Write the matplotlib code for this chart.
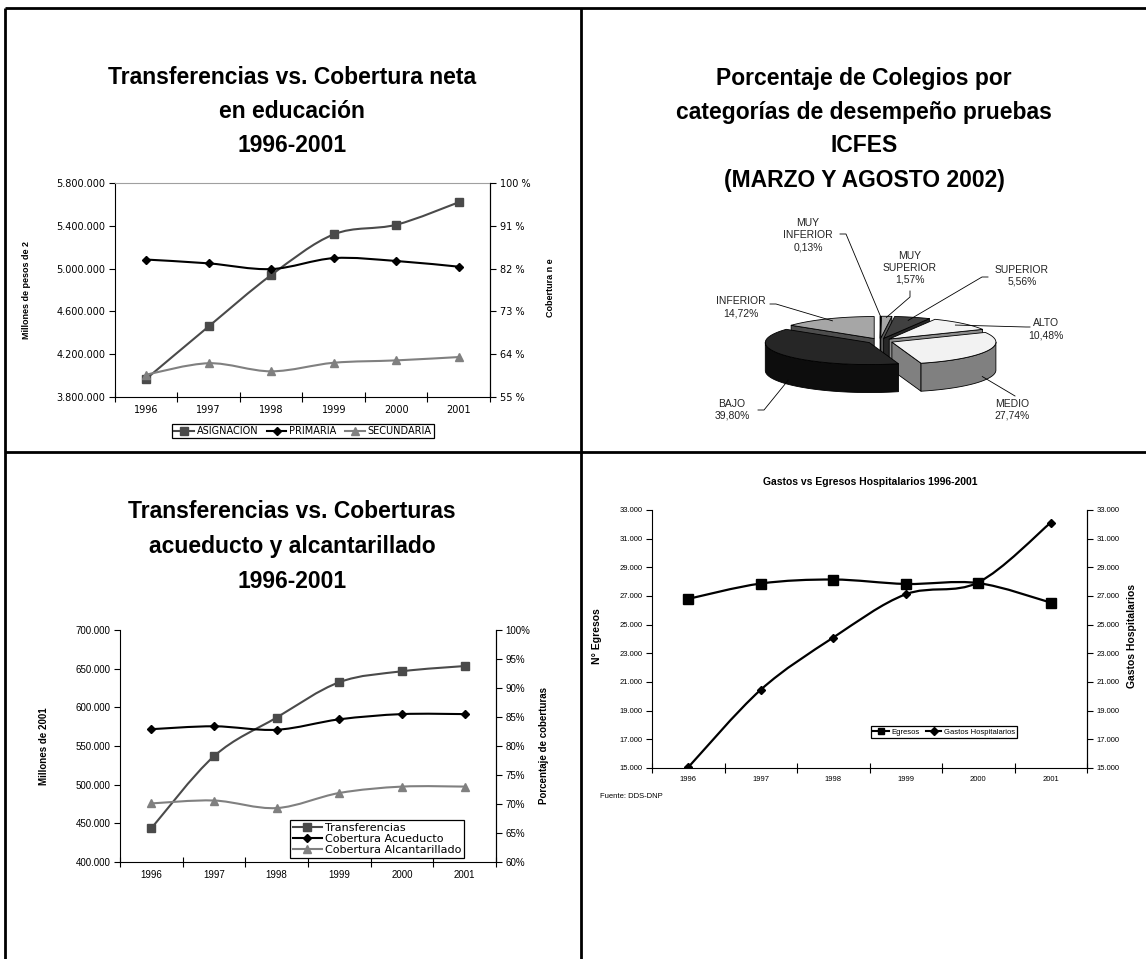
import numpy as np
import matplotlib
matplotlib.use('Agg')
import matplotlib.pyplot as plt
from matplotlib.path import Path
from matplotlib.patches import PathPatch, Polygon
from matplotlib.lines import Line2D

plt.rcParams['font.family'] = ['Liberation Sans', 'DejaVu Sans']

W, H = 1146, 959

years = ['1996', '1997', '1998', '1999', '2000', '2001']

# educacion: millones de pesos y cobertura neta (%)
asignacion = [3970000, 4460000, 4940000, 5320000, 5410000, 5620000]
primaria = [83.9, 83.1, 81.9, 84.2, 83.6, 82.4]
secundaria = [59.7, 62.1, 60.4, 62.2, 62.7, 63.4]

# colegios por categoria ICFES (%)
pie_labels = ['MUY\nINFERIOR', 'MUY\nSUPERIOR', 'SUPERIOR', 'ALTO', 'MEDIO', 'BAJO', 'INFERIOR']
pie_values = [0.13, 1.57, 5.56, 10.48, 27.74, 39.80, 14.72]

# acueducto y alcantarillado
transferencias = [443600, 536800, 586800, 632500, 646600, 653400]
acueducto = [82.9, 83.4, 82.8, 84.6, 85.5, 85.5]
alcantarillado = [70.1, 70.6, 69.3, 71.9, 73.0, 73.0]

# salud
egresos = [26800, 27870, 28150, 27840, 27900, 26540]
gastos = [15050, 20460, 24100, 27120, 27950, 32120]

fig = plt.figure(figsize=(W / 100, H / 100), dpi=100)
WIDE = 'DejaVu Sans'


def box(l, t, r, b):
    return [l / W, 1 - b / H, (r - l) / W, (b - t) / H]


def miles(v):
    return f'{v:,.0f}'.replace(',', '.')


def smooth(ax, y, **kw):
    # bezier through the points, like a smoothed spreadsheet line
    x = np.arange(1, len(y) + 1, dtype=float)
    y = np.asarray(y, float)
    n = len(x)
    verts = [(x[0], y[0])]
    codes = [Path.MOVETO]
    for i in range(n - 1):
        j0 = max(i - 1, 0)
        j3 = min(i + 2, n - 1)
        c1 = (x[i] + (x[i + 1] - x[j0]) / 6, y[i] + (y[i + 1] - y[j0]) / 6)
        c2 = (x[i + 1] - (x[j3] - x[i]) / 6, y[i + 1] - (y[j3] - y[i]) / 6)
        verts += [c1, c2, (x[i + 1], y[i + 1])]
        codes += [Path.CURVE4] * 3
    ax.add_patch(PathPatch(Path(verts, codes), fill=False, **kw))


def series(ax, y, color, marker, ms, lw=1.5):
    smooth(ax, y, edgecolor=color, lw=lw, zorder=3)
    ax.plot(np.arange(1, len(y) + 1), y, ls='none', marker=marker, ms=ms,
            color=color, mec=color, zorder=4)


def chart(rect, ylim, yticks, ylabels, rlim, rticks, rlabels, fs, fam):
    ax = fig.add_axes(rect)
    ax.set_xlim(0.5, 6.5)
    ax.set_ylim(*ylim)
    ax.set_xticks(np.arange(0.5, 7, 1))
    ax.set_xticklabels([])
    ax.set_xticks(np.arange(1, 7), years, minor=True)
    ax.tick_params(axis='x', which='major', direction='inout', length=7, width=0.8)
    ax.tick_params(axis='x', which='minor', length=0, labelsize=fs, pad=6,
                   labelfontfamily=fam)
    ax.set_yticks(yticks, ylabels)
    ax.tick_params(axis='y', direction='out', length=4, width=0.8, labelsize=fs, pad=3,
                   labelfontfamily=fam)
    ax.spines['top'].set_visible(False)
    for s in ('left', 'bottom'):
        ax.spines[s].set_linewidth(0.8)
    ax2 = ax.twinx()
    ax2.set_ylim(*rlim)
    ax2.set_yticks(rticks, rlabels)
    ax2.tick_params(axis='y', direction='out', length=4, width=0.8, labelsize=fs, pad=3,
                    labelfontfamily=fam)
    for s in ('top', 'left', 'bottom'):
        ax2.spines[s].set_visible(False)
    ax2.spines['right'].set_linewidth(0.8)
    return ax, ax2


def legend(ax, handles, labels, center, fs, ncol, fam, hl=2.0):
    leg = ax.legend(handles, labels, loc='center', bbox_to_anchor=(center[0] / W, 1 - center[1] / H),
                    bbox_transform=fig.transFigure, ncol=ncol, prop={'family': fam, 'size': fs},
                    frameon=True, fancybox=False, framealpha=1, edgecolor='black', borderpad=0.25,
                    handlelength=hl, handletextpad=0.3, columnspacing=0.9, labelspacing=0.1,
                    borderaxespad=0)
    leg.get_frame().set_linewidth(0.9)
    return leg


# frame and titles drawn in pixel coordinates
ax0 = fig.add_axes([0, 0, 1, 1])
ax0.set_xlim(0, W)
ax0.set_ylim(H, 0)
ax0.axis('off')
for xs, ys in (([5, 5], [8, H]), ([581, 581], [8, H]), ([5, W], [8, 8]), ([5, W], [452, 452])):
    ax0.plot(xs, ys, color='black', lw=2.0, solid_capstyle='butt')

title_kw = dict(ha='center', va='center', fontsize=16.5, fontweight='bold')
for txt, y in zip(['Transferencias vs. Cobertura neta', 'en educación', '1996-2001'], [78, 112, 145]):
    ax0.text(292, y, txt, **title_kw)
for txt, y in zip(['Porcentaje de Colegios por', 'categorías de desempeño pruebas', 'ICFES',
                   '(MARZO Y AGOSTO 2002)'], [78, 112, 146, 180]):
    ax0.text(864, y, txt, **title_kw)
for txt, y in zip(['Transferencias vs. Coberturas', 'acueducto y alcantarillado', '1996-2001'],
                  [511, 546, 581]):
    ax0.text(292, y, txt, **title_kw)
ax0.text(870, 482, 'Gastos vs Egresos Hospitalarios 1996-2001', ha='center', va='center',
         fontsize=7.5, fontweight='bold')
ax0.text(600, 797, 'Fuente: DDS-DNP', ha='left', va='center', fontsize=5.5)

# --- educacion ---
dark, mid = '#4a4a4a', '#808080'
yt = np.arange(3800000, 5800001, 400000)
rt = np.arange(55, 101, 9)
ax, ax2 = chart(box(115, 183, 490, 397), (3800000, 5800000), yt, [miles(v) for v in yt],
                (55, 100), rt, [f'{v} %' for v in rt], 7, WIDE)
ax.spines['top'].set_visible(True)
ax.spines['top'].set_color('#a0a0a0')
ax.set_ylabel('Millones de pesos de 2', fontsize=6.5, fontweight='bold')
ax.yaxis.set_label_coords(-0.225, 0.5)
ax2.set_ylabel('Cobertura n e', fontsize=6.5, fontweight='bold')
ax2.yaxis.set_label_coords(1.15, 0.51)
series(ax, asignacion, dark, 's', 6)
series(ax2, primaria, 'black', 'D', 4)
series(ax2, secundaria, mid, '^', 6)
legend(ax, [Line2D([], [], color=dark, marker='s', ms=6, lw=1.5),
            Line2D([], [], color='black', marker='D', ms=4, lw=1.5),
            Line2D([], [], color=mid, marker='^', ms=6, lw=1.5)],
       ['ASIGNACION', 'PRIMARIA', 'SECUNDARIA'], (303, 431), 7, 3, WIDE)

# --- pie 3D ---
cx, cy, ra, rb, dz, expl = 880, 341, 104, 22, 28, 13
top_col = ['#d9d9d9', '#a6a6a6', '#404040', '#f4f4f4', '#f2f2f2', '#262626', '#a6a6a6']
side_col = ['#737373', '#595959', '#262626', '#8c8c8c', '#808080', '#0d0d0d', '#4d4d4d']
frac = np.cumsum([0] + pie_values) / sum(pie_values)
slices = []
for i in range(len(pie_values)):
    t1 = np.pi / 2 - 2 * np.pi * frac[i]
    t0 = np.pi / 2 - 2 * np.pi * frac[i + 1]
    m = (t0 + t1) / 2
    slices.append((t0, t1, m, expl * np.cos(m), -expl * rb / ra * np.sin(m)))


def rim(t, ox, oy, r=1.0, down=0.0):
    return (cx + ox + r * ra * np.cos(t), cy + oy - r * rb * np.sin(t) + down)


edge = dict(ec='black', lw=0.6, joinstyle='round')
for i in sorted(range(len(slices)), key=lambda k: -np.sin(slices[k][2])):
    t0, t1, m, ox, oy = slices[i]
    c = (cx + ox, cy + oy)
    for t, vis in ((t0, np.cos(t0) > 0), (t1, np.cos(t1) < 0)):
        if vis:
            p = rim(t, ox, oy)
            ax0.add_patch(Polygon([c, p, (p[0], p[1] + dz), (c[0], c[1] + dz)],
                                  fc=side_col[i], **edge))
    for k in range(-2, 2):
        a0 = max(t0, np.pi + 2 * np.pi * k)
        a1 = min(t1, 2 * np.pi + 2 * np.pi * k)
        if a1 > a0:
            ts = np.linspace(a0, a1, 80)
            upper = [rim(t, ox, oy) for t in ts]
            lower = [rim(t, ox, oy, down=dz) for t in ts[::-1]]
            ax0.add_patch(Polygon(upper + lower, fc=side_col[i], **edge))
    ts = np.linspace(t0, t1, 120)
    ax0.add_patch(Polygon([c] + [rim(t, ox, oy) for t in ts], fc=top_col[i], **edge))

label_xy = [(808, 235), (910, 268), (1022, 276), (1046, 329), (1012, 410), (732, 410), (741, 307)]
knees = [[(840, 234), (846, 234)], [(910, 291), (910, 297)], [(988, 277), (982, 277)],
         [(1030, 327), (1026, 327)], [(1015, 396), (1010, 393)], [(758, 410), (764, 410)],
         [(770, 304), (776, 304)]]
reach = [(1.0, 0), (0.95, 0), (0.85, 0), (0.9, 0), (0.95, 1), (0.95, 1), (0.9, 0)]
for i, (lab, val) in enumerate(zip(pie_labels, pie_values)):
    ax0.text(*label_xy[i], f'{lab}\n{val:.2f}%'.replace('.', ','), ha='center', va='center',
             fontsize=7.5, color='#222222', linespacing=1.25)
    t0, t1, m, ox, oy = slices[i]
    r, d = reach[i]
    end = rim(m, ox, oy, r=r, down=d * (dz - 2))
    pts = knees[i] + [end]
    ax0.plot([p[0] for p in pts], [p[1] for p in pts], color='black', lw=0.6)

# --- acueducto y alcantarillado ---
yt = np.arange(400000, 700001, 50000)
rt = np.arange(60, 101, 5)
ax, ax2 = chart(box(120, 630, 496, 862), (400000, 700000), yt, [miles(v) for v in yt],
                (60, 100), rt, [f'{v}%' for v in rt], 7, 'Liberation Sans')
ax.set_ylabel('Millones de 2001', fontsize=7, fontweight='bold')
ax.yaxis.set_label_coords(-0.19, 0.5)
ax2.set_ylabel('Porcentaje de coberturas', fontsize=7, fontweight='bold')
ax2.yaxis.set_label_coords(1.115, 0.5)
series(ax, transferencias, dark, 's', 6)
series(ax2, acueducto, 'black', 'D', 4)
series(ax2, alcantarillado, mid, '^', 6)
legend(ax2, [Line2D([], [], color=dark, marker='s', ms=6, lw=1.5),
             Line2D([], [], color='black', marker='D', ms=4, lw=1.5),
             Line2D([], [], color=mid, marker='^', ms=6, lw=1.5)],
       ['Transferencias', 'Cobertura Acueducto', 'Cobertura Alcantarillado'], (377, 839), 8,
       1, WIDE, hl=2.6)

# --- salud ---
yt = np.arange(15000, 33001, 2000)
ax, ax2 = chart(box(652, 510, 1087, 768), (15000, 33000), yt, [miles(v) for v in yt],
                (15000, 33000), yt, [miles(v) for v in yt], 5.5, 'Liberation Sans')
ax.set_ylabel('N° Egresos', fontsize=7.5, fontweight='bold')
ax.yaxis.set_label_coords(-0.115, 0.51)
ax2.set_ylabel('Gastos Hospitalarios', fontsize=7.5, fontweight='bold')
ax2.yaxis.set_label_coords(1.092, 0.51)
series(ax, egresos, 'black', 's', 6.5, lw=1.6)
series(ax2, gastos, 'black', 'D', 4.5, lw=1.6)
legend(ax2, [Line2D([], [], color='black', marker='s', ms=5, lw=1.5),
             Line2D([], [], color='black', marker='D', ms=4, lw=1.5)],
       ['Egresos', 'Gastos Hospitalarios'], (944, 732), 5.5, 2, 'Liberation Sans')

fig.savefig('out.png', dpi=100)
